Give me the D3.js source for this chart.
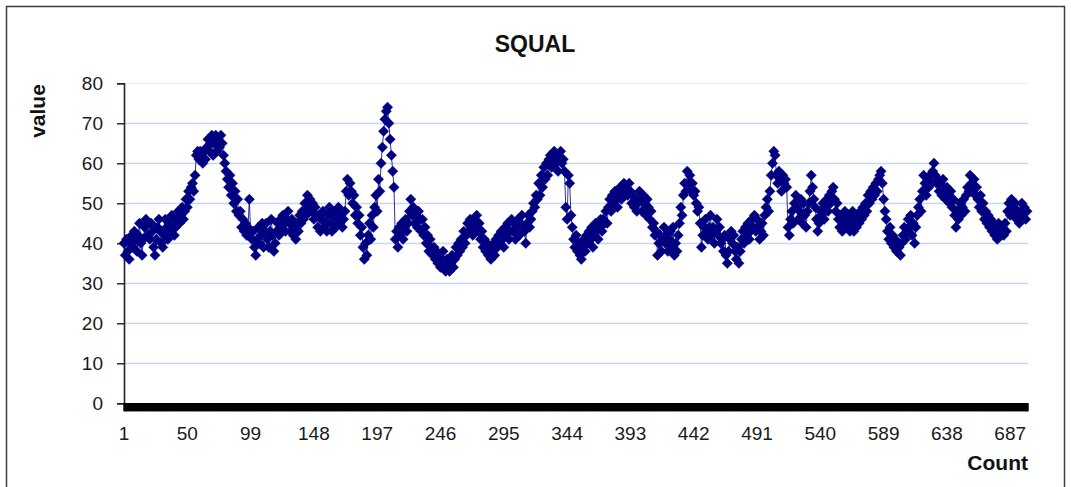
<!DOCTYPE html>
<html>
<head>
<meta charset="utf-8">
<script src="https://cdn.jsdelivr.net/npm/d3@7/dist/d3.min.js"></script>
<style>
  html, body { margin: 0; padding: 0; background: #fff; }
  svg { display: block; }
  text { font-family: "Liberation Sans", Arial, sans-serif; }
</style>
</head>
<body>
<svg id="chart" width="1071" height="487"></svg>
<script>
// ---------------- data ----------------
const chartTitle = "SQUAL";
const yAxisTitle = "value";
const xAxisTitle = "Count";

// SQUAL values (rows of 10, starting index in comment)
const squal = [
  /*   1 */ 40, 37, 41, 38, 36, 40, 42, 39, 43, 41,
  /*  11 */ 38, 42, 45, 40, 37, 41, 44, 46, 42, 45,
  /*  21 */ 41, 45, 43, 39, 37, 41, 44, 46, 43, 40,
  /*  31 */ 39, 42, 46, 44, 41, 45, 43, 47, 45, 42,
  /*  41 */ 44, 46, 48, 45, 47, 49, 46, 48, 51, 49,
  /*  51 */ 53, 51, 54, 55, 53, 57, 62, 63, 61, 63,
  /*  61 */ 62, 60, 63, 61, 64, 66, 63, 65, 67, 62,
  /*  71 */ 65, 67, 63, 66, 64, 67, 65, 62, 60, 58,
  /*  81 */ 56, 54, 57, 52, 55, 50, 53, 48, 51, 47,
  /*  91 */ 48, 44, 46, 43, 45, 42, 44, 51, 43, 41,
  /* 101 */ 43, 39, 37, 41, 44, 40, 42, 45, 39, 43,
  /* 111 */ 45, 41, 39, 43, 46, 42, 38, 40, 43, 45,
  /* 121 */ 42, 46, 44, 47, 45, 43, 46, 48, 45, 43,
  /* 131 */ 46, 42, 44, 41, 45, 43, 47, 45, 48, 46,
  /* 141 */ 50, 47, 52, 49, 51, 48, 50, 46, 49, 47,
  /* 151 */ 44, 47, 43, 46, 48, 44, 45, 43, 47, 49,
  /* 161 */ 45, 43, 47, 48, 44, 46, 49, 45, 47, 44,
  /* 171 */ 46, 48, 53, 56, 52, 55, 53, 50, 52, 47,
  /* 181 */ 49, 45, 47, 42, 44, 39, 36, 40, 37, 42,
  /* 191 */ 45, 41, 47, 44, 49, 52, 48, 56, 53, 60,
  /* 201 */ 64, 68, 71, 73, 74, 70, 66, 62, 58, 54,
  /* 211 */ 41, 43, 39, 44, 42, 45, 41, 44, 46, 43,
  /* 221 */ 45, 48, 51, 47, 49, 45, 47, 44, 48, 46,
  /* 231 */ 43, 46, 42, 44, 40, 42, 38, 41, 39, 37,
  /* 241 */ 39, 36, 38, 35, 37, 34, 36, 38, 35, 33,
  /* 251 */ 36, 34, 33, 35, 37, 34, 36, 39, 37, 40,
  /* 261 */ 38, 41, 39, 43, 40, 42, 45, 43, 46, 44,
  /* 271 */ 42, 46, 44, 47, 43, 45, 41, 43, 39, 41,
  /* 281 */ 38, 40, 37, 39, 36, 38, 40, 37, 41, 39,
  /* 291 */ 42, 40, 43, 41, 39, 44, 42, 45, 41, 43,
  /* 301 */ 46, 43, 45, 41, 44, 46, 42, 45, 47, 44,
  /* 311 */ 43, 40, 45, 47, 44, 46, 48, 50, 49, 52,
  /* 321 */ 51, 55, 52, 57, 54, 59, 56, 60, 57, 61,
  /* 331 */ 62, 59, 61, 63, 60, 62, 58, 61, 63, 60,
  /* 341 */ 61, 58, 49, 46, 57, 55, 47, 44, 41, 39,
  /* 351 */ 42, 38, 40, 37, 36, 39, 41, 38, 42, 40,
  /* 361 */ 43, 41, 44, 39, 42, 45, 43, 41, 44, 46,
  /* 371 */ 43, 46, 45, 48, 45, 49, 51, 48, 52, 50,
  /* 381 */ 53, 51, 49, 52, 54, 51, 53, 55, 52, 54,
  /* 391 */ 52, 55, 53, 50, 52, 49, 51, 48, 50, 53,
  /* 401 */ 51, 48, 52, 50, 47, 51, 49, 46, 48, 44,
  /* 411 */ 45, 42, 43, 37, 40, 42, 38, 41, 44, 40,
  /* 421 */ 42, 38, 41, 43, 39, 44, 37, 40, 38, 42,
  /* 431 */ 45, 49, 47, 52, 55, 53, 58, 55, 57, 53,
  /* 441 */ 55, 52, 53, 50, 48, 49, 45, 39, 42, 44,
  /* 451 */ 46, 43, 41, 44, 47, 42, 44, 40, 43, 46,
  /* 461 */ 42, 44, 40, 41, 38, 42, 37, 35, 38, 41,
  /* 471 */ 43, 40, 42, 38, 36, 39, 35, 38, 41, 43,
  /* 481 */ 40, 44, 42, 45, 41, 43, 46, 44, 47, 43,
  /* 491 */ 46, 44, 41, 43, 45, 42, 47, 49, 51, 48,
  /* 501 */ 53, 57, 60, 63, 62, 57, 55, 58, 56, 53,
  /* 511 */ 57, 55, 56, 54, 44, 42, 46, 48, 45, 50,
  /* 521 */ 52, 49, 46, 48, 51, 45, 50, 47, 44, 48,
  /* 531 */ 50, 53, 57, 54, 51, 49, 46, 43, 45, 48,
  /* 541 */ 47, 50, 46, 49, 51, 48, 52, 50, 53, 54,
  /* 551 */ 51, 48, 50, 46, 44, 47, 43, 45, 48, 46,
  /* 561 */ 44, 47, 43, 45, 48, 43, 46, 44, 47, 45,
  /* 571 */ 48, 46, 49, 47, 50, 48, 52, 50, 53, 51,
  /* 581 */ 54, 52, 55, 53, 56, 57, 58, 55, 51, 48,
  /* 591 */ 46, 43, 41, 44, 40, 42, 39, 41, 38, 40,
  /* 601 */ 39, 37, 40, 42, 44, 41, 43, 46, 44, 47,
  /* 611 */ 42, 45, 40, 44, 47, 49, 51, 48, 53, 57,
  /* 621 */ 55, 52, 56, 54, 57, 55, 58, 60, 57, 55,
  /* 631 */ 56, 53, 55, 52, 56, 53, 51, 54, 52, 50,
  /* 641 */ 53, 49, 51, 47, 44, 48, 46, 50, 47, 49,
  /* 651 */ 51, 48, 52, 54, 53, 57, 55, 53, 56, 52,
  /* 661 */ 54, 51, 49, 52, 48, 50, 46, 48, 45, 47,
  /* 671 */ 44, 46, 43, 45, 42, 44, 41, 45, 43, 42,
  /* 681 */ 44, 42, 45, 43, 48, 50, 47, 51, 49, 47,
  /* 691 */ 50, 46, 48, 45, 47, 50, 48, 49, 46, 48
];

// categories: 1 .. N (the "Count" axis)
const categories = squal.map((_, i) => i + 1);
// x tick labels shown on the category axis
const xTickLabels = [1, 50, 99, 148, 197, 246, 295, 344, 393, 442, 491, 540, 589, 638, 687];
// y tick labels
const yTickLabels = [0, 10, 20, 30, 40, 50, 60, 70, 80];

// ---------------- drawing ----------------
const svg = d3.select("#chart");
const W = 1071, H = 487;
const plot = { left: 124, right: 1027, top: 83.3, bottom: 403.3 };
const navy = "#000080";

svg.append("rect").attr("width", W).attr("height", H).attr("fill", "#fff");

// outer chart border
svg.append("rect")
  .attr("x", 6.5).attr("y", 6.5)
  .attr("width", 1058).attr("height", 500)
  .attr("fill", "none").attr("stroke", "#3c3c3c").attr("stroke-width", 1.5);

const x = d3.scalePoint().domain(categories).range([plot.left, plot.right]);
const y = d3.scaleLinear().domain([0, 80]).range([plot.bottom, plot.top]);

// gridlines
svg.append("g")
  .selectAll("line")
  .data(yTickLabels.filter(d => d > 0))
  .join("line")
  .attr("x1", plot.left).attr("x2", plot.right + 1)
  .attr("y1", d => Math.round(y(d)) + 0.5).attr("y2", d => Math.round(y(d)) + 0.5)
  .attr("stroke", d => d === 80 ? "#eef2f8" : "#c6d7ef")
  .attr("stroke-width", 1.6);

// y axis
const yAxis = svg.append("g")
  .attr("transform", `translate(${plot.left},0)`)
  .call(d3.axisLeft(y).tickValues(yTickLabels).tickSize(7).tickPadding(14).tickFormat(d3.format("d")));
yAxis.select(".domain").attr("stroke", "#222").attr("stroke-width", 1.6);
yAxis.selectAll(".tick line").attr("stroke", "#222").attr("stroke-width", 1.4);
yAxis.selectAll(".tick text")
  .attr("font-size", 19).attr("fill", "#1a1a1a")
  .attr("font-family", "'Liberation Sans', Arial, sans-serif");

// x axis: one tick per category (forms the dense black band)
const xAxis = svg.append("g")
  .attr("transform", `translate(0,${plot.bottom})`)
  .call(d3.axisBottom(x).tickValues(categories).tickSize(8).tickFormat(""));
xAxis.select(".domain").attr("stroke", "#000").attr("stroke-width", 1.6);
xAxis.selectAll(".tick line").attr("stroke", "#000").attr("stroke-width", 2.2);

// x tick labels
svg.append("g")
  .selectAll("text")
  .data(xTickLabels)
  .join("text")
  .attr("x", d => x(d))
  .attr("y", 440)
  .attr("text-anchor", "middle")
  .attr("font-size", 19)
  .attr("fill", "#1a1a1a")
  .text(d => d);

// series line
const line = d3.line().x((d, i) => x(categories[i])).y(d => y(d));
svg.append("path")
  .datum(squal)
  .attr("d", line)
  .attr("fill", "none")
  .attr("stroke", navy)
  .attr("stroke-width", 1)
  .attr("stroke-opacity", 0.8);

// diamond markers
const diamond = {
  draw(ctx, size) {
    const r = Math.sqrt(size / 2);
    ctx.moveTo(0, -r); ctx.lineTo(r, 0); ctx.lineTo(0, r); ctx.lineTo(-r, 0); ctx.closePath();
  }
};
const sym = d3.symbol().type(diamond).size(54);
svg.append("g")
  .selectAll("path")
  .data(squal)
  .join("path")
  .attr("transform", (d, i) => `translate(${x(categories[i])},${y(d)})`)
  .attr("d", sym)
  .attr("fill", navy)
  .attr("stroke", navy)
  .attr("stroke-width", 0.8)
  .attr("stroke-opacity", 0.5);

// titles
svg.append("text")
  .attr("x", 535).attr("y", 52)
  .attr("text-anchor", "middle")
  .attr("font-size", 23).attr("font-weight", "bold").attr("fill", "#111")
  .text(chartTitle);

svg.append("text")
  .attr("transform", "translate(45,111) rotate(-90)")
  .attr("text-anchor", "middle")
  .attr("font-size", 21).attr("font-weight", "bold").attr("fill", "#111")
  .text(yAxisTitle);

svg.append("text")
  .attr("x", 1028).attr("y", 470)
  .attr("text-anchor", "end")
  .attr("font-size", 21).attr("font-weight", "bold").attr("fill", "#111")
  .text(xAxisTitle);
</script>
</body>
</html>
